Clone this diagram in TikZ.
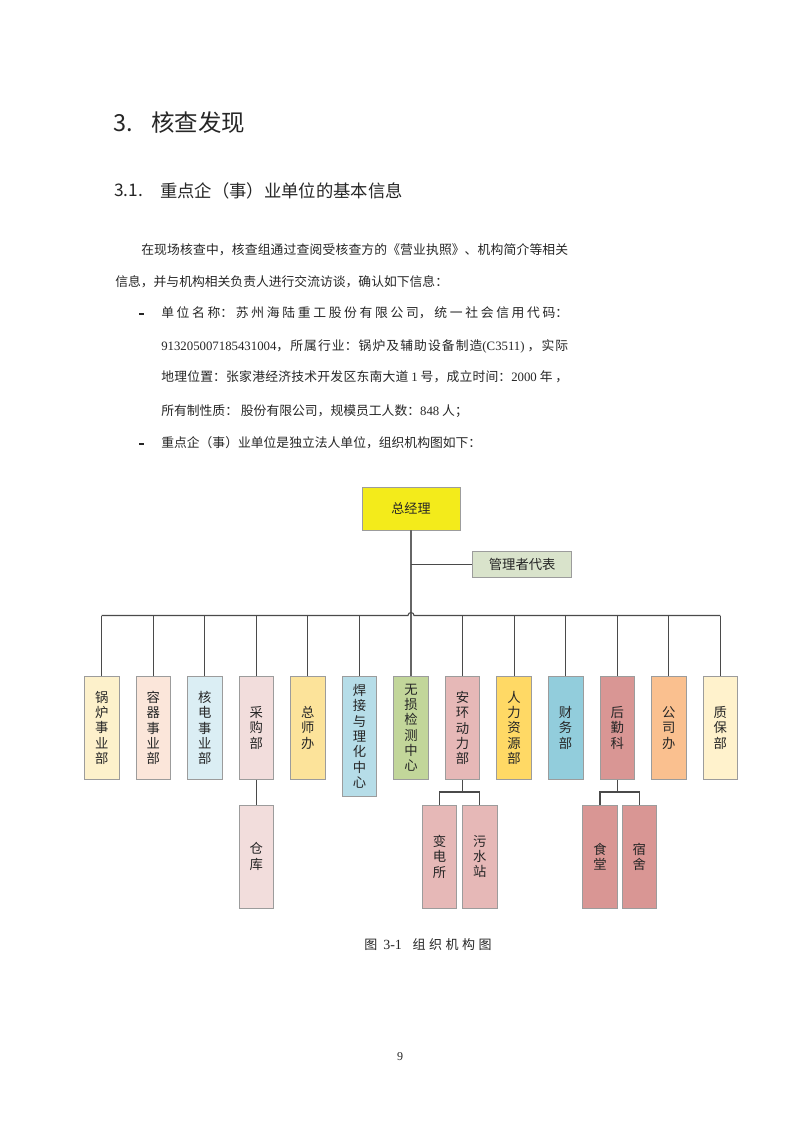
\documentclass[tikz,border=0pt]{standalone}
\usepackage{fontspec}
\setmainfont{Noto Sans CJK SC}
\newfontfamily\lat{Liberation Serif}
\XeTeXlinebreaklocale "zh"
\XeTeXlinebreakskip=0pt plus 6pt
\definecolor{boxline}{HTML}{9C9C9C}
\definecolor{linec}{HTML}{4A4A4A}
\definecolor{txt}{HTML}{262626}
\definecolor{cGM}{HTML}{F3EB1B}
\definecolor{cRep}{HTML}{D9E3CB}
\definecolor{cA}{HTML}{FDF1CB}
\definecolor{cB}{HTML}{FBE6DA}
\definecolor{cC}{HTML}{DBEEF4}
\definecolor{cD}{HTML}{F2DDDC}
\definecolor{cE}{HTML}{FCE39A}
\definecolor{cF}{HTML}{B6DDE8}
\definecolor{cG}{HTML}{C2D69A}
\definecolor{cH}{HTML}{E6B8B7}
\definecolor{cI}{HTML}{FFD965}
\definecolor{cJ}{HTML}{92CDDC}
\definecolor{cK}{HTML}{D99694}
\definecolor{cL}{HTML}{FAC08F}
\definecolor{cM}{HTML}{FFF2CC}
\newcommand\jline[2]{\parbox{#1}{\parfillskip=0pt\relax #2}}
\begin{document}
\begin{tikzpicture}[x=0.75pt,y=-0.75pt,
  txtnode/.style={inner sep=0pt,anchor=west,text=txt,font=\fontsize{9.6pt}{12pt}\selectfont},
  orgbox/.style={draw=boxline,line width=0.6pt,inner sep=0pt,minimum width=25.9pt,
    minimum height=77.25pt,anchor=north,align=center,text=txt,
    font=\fontsize{10pt}{11.5pt}\selectfont},
  conn/.style={draw=linec,line width=0.8pt}]
\useasboundingbox[fill=white] (0,0) rectangle (800,1131);
% headings
\node[txtnode,font=\fontsize{17.6pt}{20pt}\selectfont] (h1n) at (113,123) {3.};
\node[txtnode,font=\fontsize{17.6pt}{20pt}\selectfont] (h1t) at (151,123) {核查发现};
\node[txtnode,font=\fontsize{13pt}{15pt}\selectfont] (h2n) at (114,190.7) {3.1.};
\node[txtnode,font=\fontsize{13pt}{15pt}\selectfont] (h2t) at (160,190.7) {重点企（事）业单位的基本信息};
% paragraph
\node[txtnode] (p1) at (141,250) {\jline{320.25pt}{在现场核查中，核查组通过查阅受核查方的《营业执照》、机构简介等相关}};
\node[txtnode] (p2) at (115,281.7) {信息，并与机构相关负责人进行交流访谈，确认如下信息：};
\node[inner sep=0pt,anchor=west,fill=txt,minimum width=3.75pt,minimum height=1.9pt] (bul1) at (138.3,314) {};
\node[txtnode] (b1a) at (161,313) {\jline{305.25pt}{单位名称：苏州海陆重工股份有限公司，统一社会信用代码：}};
\node[txtnode] (b1b) at (161,346.7) {\jline{305.25pt}{{\lat 913205007185431004}，所属行业：锅炉及辅助设备制造{\lat (C3511)} ，实际}};
\node[txtnode] (b1c) at (161,377) {\jline{305.25pt}{地理位置：张家港经济技术开发区东南大道 {\lat 1} 号，成立时间：{\lat 2000} 年 ，}};
\node[txtnode] (b1d) at (161,410.7) {所有制性质： 股份有限公司，规模员工人数：{\lat 848} 人；};
\node[inner sep=0pt,anchor=west,fill=txt,minimum width=3.75pt,minimum height=1.9pt] (bul2) at (138.3,444) {};
\node[txtnode] (b2) at (161,443) {重点企（事）业单位是独立法人单位，组织机构图如下：};
% chart
\node[draw=boxline,line width=0.6pt,fill=cGM,minimum width=73.5pt,minimum height=32.25pt,inner sep=0pt,text=txt,font=\fontsize{9.8pt}{11.5pt}\selectfont] (gm) at (411,508.5) {总经理};
\node[draw=boxline,line width=0.6pt,fill=cRep,minimum width=74.25pt,minimum height=20pt,inner sep=0pt,text=txt,font=\fontsize{10pt}{11.5pt}\selectfont] (rep) at (522.2,564.3) {管理者代表};
\node[orgbox,fill=cA] (d1) at (101.7,676) {锅\\炉\\事\\业\\部};
\node[orgbox,fill=cB] (d2) at (153.25,676) {容\\器\\事\\业\\部};
\node[orgbox,fill=cC] (d3) at (204.8,676) {核\\电\\事\\业\\部};
\node[orgbox,fill=cD] (d4) at (256.35,676) {采\\购\\部};
\node[orgbox,fill=cE] (d5) at (307.9,676) {总\\师\\办};
\node[orgbox,fill=cF,minimum height=90pt] (d6) at (359.45,676) {焊\\接\\与\\理\\化\\中\\心};
\node[orgbox,fill=cG] (d7) at (411,676) {无\\损\\检\\测\\中\\心};
\node[orgbox,fill=cH] (d8) at (462.55,676) {安\\环\\动\\力\\部};
\node[orgbox,fill=cI] (d9) at (514.1,676) {人\\力\\资\\源\\部};
\node[orgbox,fill=cJ] (d10) at (565.65,676) {财\\务\\部};
\node[orgbox,fill=cK] (d11) at (617.2,676) {后\\勤\\科};
\node[orgbox,fill=cL] (d12) at (668.75,676) {公\\司\\办};
\node[orgbox,fill=cM] (d13) at (720.3,676) {质\\保\\部};
\node[orgbox,fill=cD] (c1) at (256.35,804.7) {仓\\库};
\node[orgbox,fill=cH] (c2) at (439.5,804.7) {变\\电\\所};
\node[orgbox,fill=cH] (c3) at (479.7,804.7) {污\\水\\站};
\node[orgbox,fill=cK] (c4) at (600,804.7) {食\\堂};
\node[orgbox,fill=cK] (c5) at (639.3,804.7) {宿\\舍};
% connectors
\coordinate (busL) at (101.7,615.5);
\coordinate (busR) at (720.3,615.5);
\coordinate (hopL) at (408,615.5);
\coordinate (j8) at (462.55,792);
\coordinate (j11) at (617.2,792);
\draw[conn,draw=gray!80!black,line width=0.9pt] (gm.south) -- (d7.north);
\draw[conn] (gm.south |- rep.west) -- (rep.west);
\draw[conn] (busL) -- (hopL) arc[start angle=180,end angle=0,radius=2.25pt] -- (busR);
\foreach \n in {d1,d2,d3,d4,d5,d6,d8,d9,d10,d11,d12,d13}
  \draw[conn] (\n.north) -- (\n.north |- busL);
\draw[conn] (d4.south) -- (c1.north);
\draw[conn] (d8.south) -- (j8);
\draw[conn] (c2.north) |- (j8) -| (c3.north);
\draw[conn] (d11.south) -- (j11);
\draw[conn] (c4.north) |- (j11) -| (c5.north);
% caption and page number
\node[txtnode,font=\fontsize{9.75pt}{12pt}\selectfont] (cap) at (364,945) {图\kern4.5pt{\lat\fontsize{10.5pt}{12pt}\selectfont 3-1}\kern8pt\makebox[59.25pt][s]{组\hfill 织\hfill 机\hfill 构\hfill 图}};
\node[inner sep=0pt,text=txt,font=\lat\fontsize{9pt}{11pt}\selectfont] (pg) at (400,1057) {9};
\end{tikzpicture}
\end{document}
